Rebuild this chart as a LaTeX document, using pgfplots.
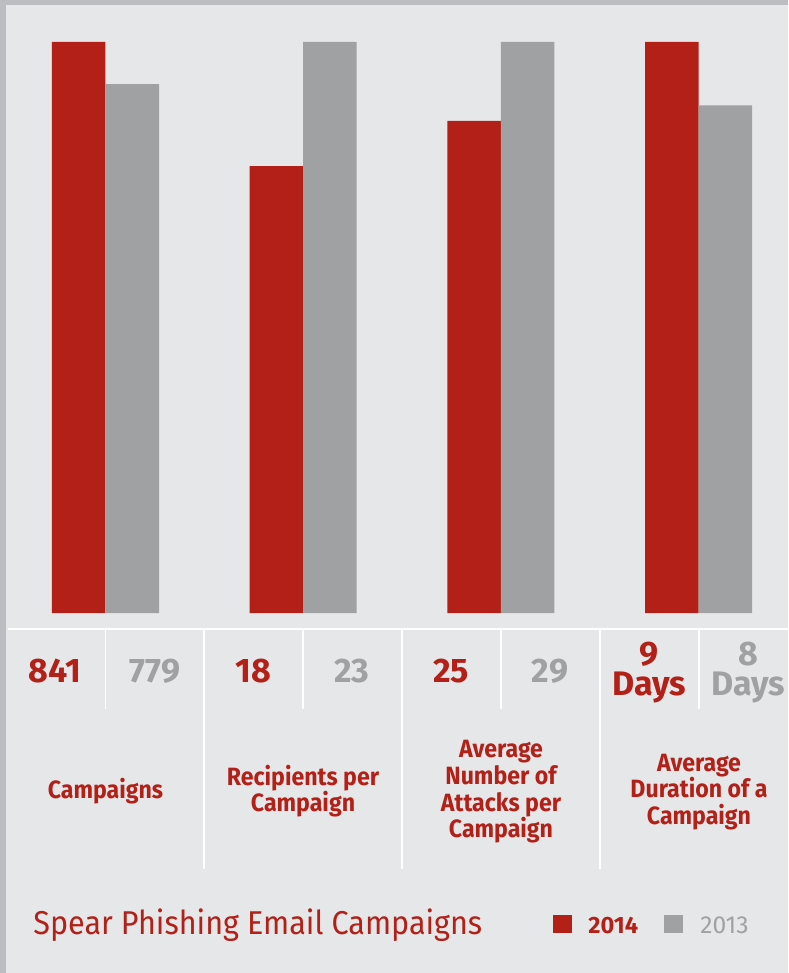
\documentclass[border=0pt]{standalone}
\usepackage{pgfplots}
\pgfplotsset{compat=1.18}
\usepackage{pgfplotstable}
\usepackage{fontspec}
\setmainfont{Fira Sans}
\newfontfamily\narrowfont{Fira Sans}[FakeStretch=0.925]
\definecolor{bg}{HTML}{E6E7E8}
\definecolor{edge}{HTML}{BCBDC0}
\definecolor{red14}{HTML}{B22018}
\definecolor{gray13}{HTML}{A0A1A3}

% values; bars are drawn relative to the larger value of each pair
\pgfplotstableread{
x a b
0 841 779
1 18 23
2 25 29
3 9 8
}\data

\begin{document}
\begin{tikzpicture}
\begin{scope}[x=0.5pt,y=-0.5pt]
\fill[bg] (0,0) rectangle (788,973);
\fill[edge] (0,0) rectangle (788,5);
\fill[edge] (0,0) rectangle (6,973);
\end{scope}
\begin{axis}[at={(0pt,-306.5pt)}, anchor=south west, scale only axis,
  width=394pt, height=285.5pt,
  xmin=-0.5337, xmax=3.4527, ymin=0, ymax=1,
  hide axis, ybar, bar width=26.75pt, clip=false]
\addplot[fill=red14, draw=none, bar shift=-13.375pt]
  table[x=x, y expr={\thisrow{a}/max(\thisrow{a},\thisrow{b})}] \data;
\addplot[fill=gray13, draw=none, bar shift=13.375pt]
  table[x=x, y expr={\thisrow{b}/max(\thisrow{a},\thisrow{b})}] \data;
\end{axis}
\begin{scope}[x=0.5pt,y=-0.5pt]
\draw[white, line width=0.8pt] (8,629) -- (788,629);
\foreach \xx in {204,402,600} \draw[white, line width=0.7pt] (\xx,629) -- (\xx,869);
\foreach \xx in {105.5,303,501,699} \draw[white, line width=0.7pt] (\xx,629) -- (\xx,709);
\tikzset{num/.style={anchor=base, inner sep=0pt, font=\fontsize{17}{15}\selectfont\bfseries}}
\node[num, red14] at (55,682) {841};
\node[num, gray13] at (155,682) {779};
\node[num, red14] at (253,682) {18};
\node[num, gray13] at (352,682) {23};
\node[num, red14] at (451,682) {25};
\node[num, gray13] at (550,682) {29};
\node[num, red14, align=center] at (649,695) {9\\Days};
\node[num, gray13, align=center] at (748,695) {8\\Days};
\tikzset{cat/.style={align=center, inner sep=0pt, red14, font=\narrowfont\fontsize{12.5}{13.35}\selectfont\bfseries}}
\node[cat] at (105.5,791) {Campaigns};
\node[cat] at (303,791) {Recipients per\\Campaign};
\node[cat] at (501,792) {Average\\Number of\\Attacks per\\Campaign};
\node[cat] at (699,792) {Average\\Duration of a\\Campaign};
\node[anchor=base west, inner sep=0pt, red14, font=\narrowfont\fontsize{16.5}{18}\selectfont] at (33,934) {Spear Phishing Email Campaigns};
\fill[red14] (553,915) rectangle (572,933);
\node[anchor=base west, inner sep=0pt, red14, font=\fontsize{11.8}{13}\selectfont\bfseries] at (588,933) {2014};
\fill[gray13] (664,915) rectangle (683,933);
\node[anchor=base west, inner sep=0pt, gray13, font=\fontsize{12.3}{13}\selectfont] at (700,933) {2013};
\end{scope}
\end{tikzpicture}
\end{document}
